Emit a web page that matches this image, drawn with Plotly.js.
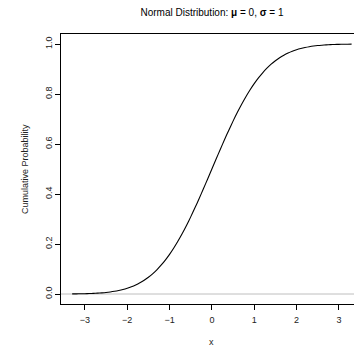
<!DOCTYPE html>
<html>
<head>
<meta charset="utf-8">
<script src="https://cdn.plot.ly/plotly-3.0.1.min.js"></script>
<style>html,body{margin:0;padding:0;background:#fff;}#chart{width:354px;height:346px;}</style>
</head>
<body>
<div id="chart"></div>
<script>
// x values and cumulative probability
var xValues = [-3.3,-3.2,-3.1,-3.0,-2.9,-2.8,-2.7,-2.6,-2.5,-2.4,-2.3,-2.2,-2.1,-2.0,-1.9,-1.8,-1.7,-1.6,-1.5,-1.4,-1.3,-1.2,-1.1,-1.0,-0.9,-0.8,-0.7,-0.6,-0.5,-0.4,-0.3,-0.2,-0.1,
  0.0,0.1,0.2,0.3,0.4,0.5,0.6,0.7,0.8,0.9,1.0,1.1,1.2,1.3,1.4,1.5,1.6,1.7,1.8,1.9,2.0,2.1,2.2,2.3,2.4,2.5,2.6,2.7,2.8,2.9,3.0,3.1,3.2,3.3];
var cumProb = [0.0005,0.0007,0.0010,0.0013,0.0019,0.0026,0.0035,0.0047,0.0062,0.0082,0.0107,0.0139,0.0179,0.0228,0.0287,0.0359,0.0446,0.0548,0.0668,0.0808,0.0968,0.1151,0.1357,0.1587,0.1841,0.2119,0.2420,0.2743,0.3085,0.3446,0.3821,0.4207,0.4602,
  0.5000,0.5398,0.5793,0.6179,0.6554,0.6915,0.7257,0.7580,0.7881,0.8159,0.8413,0.8643,0.8849,0.9032,0.9192,0.9332,0.9452,0.9554,0.9641,0.9713,0.9772,0.9821,0.9861,0.9893,0.9918,0.9938,0.9953,0.9965,0.9974,0.9981,0.9987,0.9990,0.9993,0.9995];
var xTicks = [-3,-2,-1,0,1,2,3];
var xTickLabels = ['\u22123','\u22122','\u22121','0','1','2','3'];
var yTicks = [0,0.2,0.4,0.6,0.8,1.0];
var yTickLabels = ['0.0','0.2','0.4','0.6','0.8','1.0'];
var titleText = 'Normal Distribution: <b>\u03bc</b> = 0, <b>\u03c3</b> = 1';
var xLabel = 'x';
var yLabel = 'Cumulative Probability';

var FONT = 'Liberation Sans, Arial, Helvetica, sans-serif';
var TXT = '#222222';

var trace = {
  x: xValues, y: cumProb, type: 'scatter', mode: 'lines',
  line: {color: '#000000', width: 1.1, shape: 'spline', smoothing: 0.6},
  hoverinfo: 'skip', showlegend: false
};

var layout = {
  width: 354, height: 346,
  margin: {l: 61, r: 0, t: 34, b: 42, pad: 0},
  paper_bgcolor: '#ffffff', plot_bgcolor: '#ffffff',
  font: {family: FONT, color: TXT, size: 9},
  showlegend: false,
  title: {text: titleText, font: {family: FONT, size: 10, color: '#000000'},
          x: 212/354, xref: 'container', xanchor: 'center',
          y: 1 - 12.7/346, yref: 'container', yanchor: 'middle'},
  xaxis: {
    range: [-3.564, 3.357], tickmode: 'array', tickvals: xTicks, ticktext: xTickLabels,
    ticks: 'outside', ticklen: 5, tickwidth: 1, tickcolor: '#000000',
    showline: true, linecolor: '#000000', linewidth: 1, mirror: true,
    showgrid: false, zeroline: false, tickfont: {family: FONT, size: 9, color: TXT},
    ticklabelstandoff: 2,
    fixedrange: true
  },
  yaxis: {
    range: [-0.04, 1.04], tickmode: 'array', tickvals: yTicks, ticktext: yTickLabels,
    ticks: 'outside', ticklen: 5, tickwidth: 1, tickcolor: '#000000', tickangle: -90,
    showline: true, linecolor: '#000000', linewidth: 1,
    showgrid: false, zeroline: false, tickfont: {family: FONT, size: 9, color: TXT},
    ticklabelstandoff: -1,
    fixedrange: true
  },
  shapes: [{type: 'line', xref: 'paper', yref: 'y', x0: 0, x1: 1, y0: 0, y1: 0,
            line: {color: '#bebebe', width: 1}, layer: 'below'}],
  annotations: [
    {text: xLabel, xref: 'x', yref: 'paper', x: 0, y: 0, yanchor: 'middle', xanchor: 'center',
     yshift: -37.7, showarrow: false, font: {family: FONT, size: 9, color: TXT}},
    {text: yLabel, xref: 'paper', yref: 'paper', x: 0, y: 0.5, xanchor: 'center', yanchor: 'middle',
     xshift: -36, textangle: -90, showarrow: false, font: {family: FONT, size: 9, color: TXT}}
  ]
};

Plotly.newPlot('chart', [trace], layout, {staticPlot: true, displayModeBar: false});
</script>
</body>
</html>
